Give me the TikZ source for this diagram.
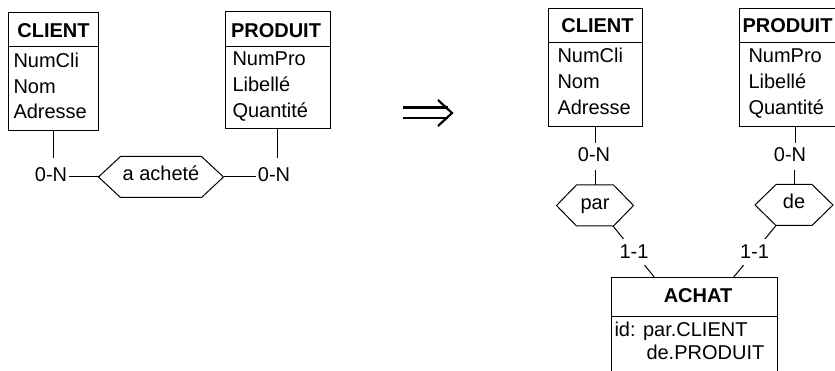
\documentclass[tikz,border=0pt]{standalone}
\usepackage{fontspec}
\setmainfont{Liberation Sans}
\newcommand{\hexdraw}[2]{\draw (#1.west) -- ([xshift=#2]#1.north west) -- ([xshift=-#2]#1.north east) -- (#1.east) -- ([xshift=-#2]#1.south east) -- ([xshift=#2]#1.south west) -- cycle;}
\begin{document}
\begin{tikzpicture}[x=1pt,y=-1pt,line width=1pt,
  font=\fontsize{20}{24}\selectfont,
  box/.style={draw, anchor=north west, inner sep=0pt, outer sep=0pt},
  txt/.style={anchor=base west, inner sep=0pt},
  head/.style={anchor=base, inner sep=0pt, font=\fontsize{20}{24}\selectfont\bfseries},
  card/.style={anchor=base, inner sep=0pt, text depth=0pt},
  hexa/.style={inner sep=0pt, minimum height=40pt, text height=14pt, text depth=6pt, minimum width=#1},
  one/.style={fill=white, inner xsep=1pt, inner ysep=6pt}
]
\useasboundingbox (0,0) rectangle (835,371);
\clip (0,0) rectangle (835,371);

% ---------- left schema ----------
\node[box, minimum width=90pt, minimum height=118pt] (lc) at (8,13) {};
\draw ([yshift=-34pt]lc.north west) -- ([yshift=-34pt]lc.north east);
\node[head] (lch) at (53.5,38) {CLIENT};
\node[txt] (lc1) at (13,68) {NumCli};
\node[txt] (lc2) at (13,93.5) {Nom};
\node[txt] (lc3) at (13,119) {Adresse};

\node[box, minimum width=105pt, minimum height=117pt] (lp) at (225,12) {};
\draw ([yshift=-35pt]lp.north west) -- ([yshift=-35pt]lp.north east);
\node[head] (lph) at (276,38) {PRODUIT};
\node[txt] (lp1) at (232,66) {NumPro};
\node[txt] (lp2) at (232,92) {Libellé};
\node[txt] (lp3) at (232,118) {Quantité};

\node[hexa=124pt] (ach) at (161,177) {a acheté};
\hexdraw{ach}{22pt}
\node[card] (l01) at (51,182) {0-N};
\node[card] (l02) at (274,182) {0-N};

\draw[shorten >=10pt] (lc.south) -- (lc.south |- l01.north);
\draw[shorten >=10pt] (lp.south) -- (lp.south |- l02.north);
\draw[shorten <=1.5pt] (ach.west -| l01.east) -- (ach.west);
\draw[shorten <=1.5pt] (ach.east -| l02.west) -- (ach.east);

% ---------- implication arrow ----------
\draw[line width=2.2pt] (403,107.5) -- (448,107.5);
\draw[line width=2.2pt] (403,118) -- (448,118);
\draw[line width=2.2pt, miter limit=10] (438,100) -- (452,113) -- (438,126);

% ---------- right schema ----------
\node[box, minimum width=94pt, minimum height=118pt] (rc) at (548,9) {};
\draw ([yshift=-34pt]rc.north west) -- ([yshift=-34pt]rc.north east);
\node[head] (rch) at (597.5,33) {CLIENT};
\node[txt] (rc1) at (557,63) {NumCli};
\node[txt] (rc2) at (557,89) {Nom};
\node[txt] (rc3) at (557,115) {Adresse};

\node[box, minimum width=110pt, minimum height=118pt] (rp) at (739,9) {};
\draw ([yshift=-34pt]rp.north west) -- ([yshift=-34pt]rp.north east);
\node[head, anchor=base west] (rph) at (742,33) {PRODUIT};
\node[txt] (rp1) at (748,63) {NumPro};
\node[txt] (rp2) at (748,89) {Libellé};
\node[txt] (rp3) at (748,115) {Quantité};

\node[hexa=76pt] (par) at (595,205.5) {par};
\hexdraw{par}{20pt}
\node[hexa=77pt] (de) at (794,205) {de};
\hexdraw{de}{21pt}

\node[card] (r01) at (594,162) {0-N};
\node[card] (r02) at (790,162) {0-N};

\draw[shorten >=5pt] (par.north |- rc.south) -- (par.north |- r01.north);
\draw[shorten <=8pt] (par.north |- r01.south) -- (par.north);
\draw[shorten >=5pt] (795,127) coordinate (rpl) -- (rpl |- r02.north);
\draw[shorten <=8pt] (de.north |- r02.south) -- (de.north);

\node[box, minimum width=166pt, minimum height=120pt] (ac) at (611,278) {};
\draw ([yshift=-38pt]ac.north west) -- ([yshift=-38pt]ac.north east);
\node[head] (ach2) at (698,302) {ACHAT};
\node[txt] (ac1) at (614,336) {id: par.CLIENT};
\node[txt] (ac2) at (646,359) {de.PRODUIT};

\coordinate (pb) at ([xshift=18pt]par.south);
\coordinate (db) at ([xshift=-18pt]de.south);
\coordinate (at1) at ([xshift=-39pt]ac.north);
\coordinate (at2) at ([xshift=39pt]ac.north);
\draw (pb) -- node[one] (c11) {1-1} (at1);
\draw (db) -- node[one] (c12) {1-1} (at2);
\end{tikzpicture}
\end{document}
